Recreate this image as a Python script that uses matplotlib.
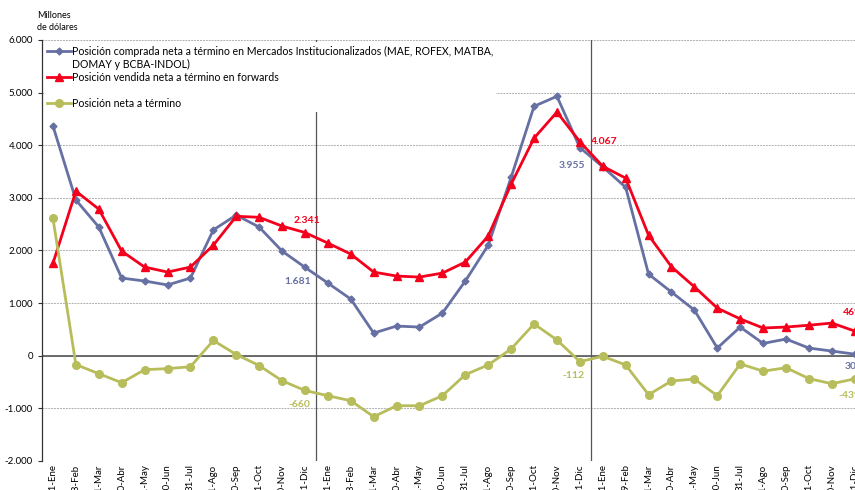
import matplotlib
matplotlib.use('Agg')
import matplotlib.pyplot as plt
from matplotlib.lines import Line2D
from matplotlib.ticker import FuncFormatter

plt.rcParams['font.family'] = ['Lato', 'DejaVu Sans']

BLUE = '#6670a3'
RED = '#f5001c'
GREEN = '#b8bd5c'

MONTHS = ['31-Ene', '28-Feb', '31-Mar', '30-Abr', '31-May', '30-Jun',
          '31-Jul', '31-Ago', '30-Sep', '31-Oct', '30-Nov', '31-Dic']
MONTHS_LEAP = ['31-Ene', '29-Feb', '31-Mar', '30-Abr', '31-May', '30-Jun',
               '31-Jul', '31-Ago', '30-Sep', '31-Oct', '30-Nov', '31-Dic']
TICK_LABELS = MONTHS + MONTHS + MONTHS_LEAP

# Millones de dolares
comprada = [4365, 2960, 2445, 1476, 1420, 1345, 1476, 2390, 2673, 2445,
            1989, 1681, 1381, 1077, 431, 564, 545, 811, 1420, 2100,
            3390, 4740, 4930, 3955, 3590, 3200, 1550, 1210, 867, 146,
            545, 234, 317, 146, 89, 30]
vendida = [1757, 3128, 2786, 1988, 1685, 1590, 1685, 2100, 2650, 2631,
           2464, 2341, 2141, 1932, 1590, 1514, 1495, 1571, 1780, 2275,
           3260, 4135, 4630, 4067, 3600, 3375, 2290, 1690, 1310, 905,
           700, 527, 545, 580, 621, 469]
neta = [2608, -168, -341, -512, -265, -245, -209, 290, 23, -186,
        -475, -660, -760, -855, -1159, -950, -950, -760, -360, -175,
        130, 605, 300, -112, -10, -175, -740, -480, -443, -759,
        -155, -293, -228, -434, -532, -439]

LABEL_COMPRADA = ('Posición comprada neta a término en Mercados '
                  'Institucionalizados (MAE, ROFEX, MATBA,')
LABEL_COMPRADA_2 = 'DOMAY y BCBA-INDOL)'
LABEL_VENDIDA = 'Posición vendida neta a término en forwards'
LABEL_NETA = 'Posición neta a término'


def thousands(v, pos):
    return '{0:,.0f}'.format(v).replace(',', '.')


def annotate(ax, i, values, colour, dx, dy, ha='center'):
    ax.annotate(thousands(values[i], None), (i, values[i]),
                xytext=(dx * 0.72, dy * 0.72), textcoords='offset points',
                ha=ha, va='center', color=colour, fontsize=7.5,
                fontweight='bold', zorder=6)


def chart():
    fig = plt.figure(figsize=(8.55, 4.9), dpi=100)
    ax = fig.add_axes([0.0491, 0.0592, 0.964, 0.8592])
    x = list(range(len(TICK_LABELS)))

    l1, = ax.plot(x, comprada, color=BLUE, lw=2, marker='D', ms=3.5,
                  zorder=4)
    l2, = ax.plot(x, vendida, color=RED, lw=2, marker='^', ms=5.5,
                  zorder=4)
    l3, = ax.plot(x, neta, color=GREEN, lw=2, marker='o', ms=5.5,
                  zorder=4)

    ax.axhline(0, color='#555555', lw=1.2, zorder=2)
    # Year separators
    ax.axvline(11.5, color='#555555', lw=0.9, zorder=2)
    ax.axvline(23.5, color='#555555', lw=0.9, zorder=2)

    ax.set_xlim(-0.48, 35.5)
    ax.set_ylim(-2000, 6000)
    ax.set_yticks(range(-2000, 6001, 1000))
    ax.yaxis.set_major_formatter(FuncFormatter(thousands))
    ax.set_xticks(x)
    ax.set_xticklabels(TICK_LABELS, rotation=90, fontsize=7)
    ax.tick_params(axis='x', length=0, pad=2.5)
    ax.tick_params(axis='y', labelsize=7, length=3, color='#333333',
                   width=0.8)
    ax.grid(axis='y', color='#b0b0b0', lw=0.7, linestyle=(0, (2, 1)))
    ax.set_axisbelow(True)
    for side in ('top', 'right', 'bottom'):
        ax.spines[side].set_visible(False)
    ax.spines['left'].set_color('#333333')
    ax.spines['left'].set_linewidth(0.9)

    annotate(ax, 11, vendida, RED, 2, 12)
    annotate(ax, 11, comprada, BLUE, -7, -14)
    annotate(ax, 11, neta, GREEN, -6, -14)
    annotate(ax, 23, vendida, RED, 11, 0, ha='left')
    annotate(ax, 23, comprada, BLUE, -8, -18)
    annotate(ax, 23, neta, GREEN, -6, -14)
    annotate(ax, 35, vendida, RED, -3, 19)
    annotate(ax, 35, comprada, BLUE, -4, -12)
    annotate(ax, 35, neta, GREEN, -5, -17)

    # Legend rows: the long label wraps onto a second row, and there is a
    # blank row before the net position
    empty = Line2D([], [], linestyle='none')
    handles = [l1, empty, l2, empty, l3]
    labels = [LABEL_COMPRADA, LABEL_COMPRADA_2, LABEL_VENDIDA, ' ',
              LABEL_NETA]
    leg = ax.legend(handles, labels, loc='upper left',
                    bbox_to_anchor=(0.0, 0.998), fontsize=7.6,
                    frameon=True, fancybox=False, edgecolor='none',
                    facecolor='white', framealpha=1, handlelength=2.3,
                    handletextpad=0.1, labelspacing=0.2, borderpad=0.3,
                    borderaxespad=0.15)
    leg.set_zorder(5)

    fig.text(37 / 855, 1 - 11 / 490, 'Millones\nde dólares', fontsize=6.5,
             ha='left', va='top', linespacing=1.5)

    fig.savefig('out.png', dpi=100)


if __name__ == '__main__':
    chart()
